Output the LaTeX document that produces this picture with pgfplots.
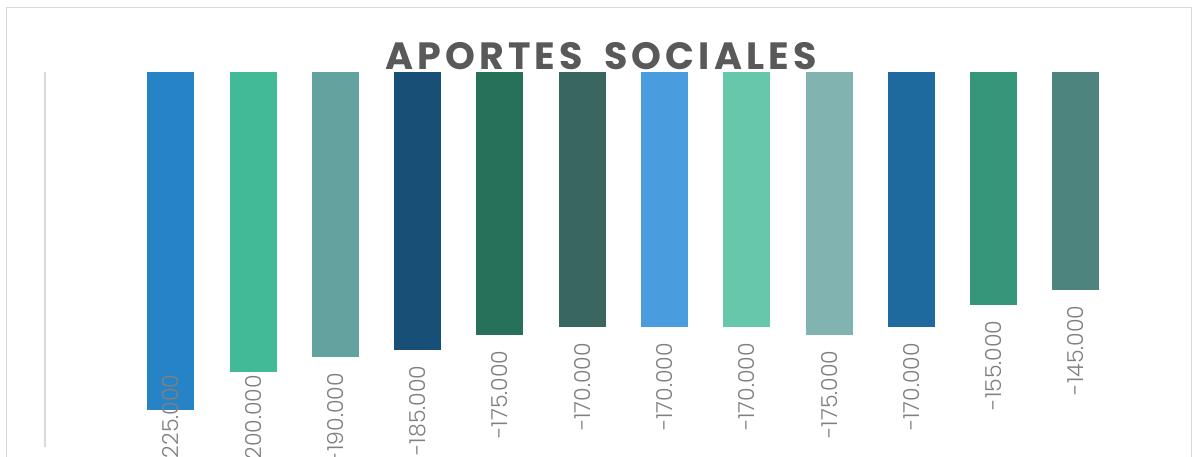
\documentclass[border=0pt]{standalone}
\usepackage{pgfplots}
\pgfplotsset{compat=1.18}
\usepackage{fontspec}
\setmainfont{Poppins}
\newfontfamily\titlefont[LetterSpace=11]{Poppins}
\newfontfamily\labfont{Poppins Light}
\definecolor{c1}{HTML}{2683C6}
\definecolor{c2}{HTML}{42BA97}
\definecolor{c3}{HTML}{62A39F}
\definecolor{c4}{HTML}{184F76}
\definecolor{c5}{HTML}{27705A}
\definecolor{c6}{HTML}{3A6660}
\definecolor{c7}{HTML}{499CDD}
\definecolor{c8}{HTML}{67C7AA}
\definecolor{c9}{HTML}{81B4B0}
\definecolor{c10}{HTML}{1E6A9F}
\definecolor{c11}{HTML}{35967A}
\definecolor{c12}{HTML}{4D847E}
\definecolor{framegray}{HTML}{D9D9D9}
\definecolor{labgray}{HTML}{808080}
\definecolor{titlegray}{HTML}{595959}
\begin{document}
\begin{tikzpicture}[x=1pt,y=1pt]
\path[use as bounding box] (0,0) rectangle (1198,456);
\fill[white] (0,0) rectangle (1198,456);
\draw[color=framegray, line width=1.5pt] (6.5,-20) rectangle (1191.5,448.5);
\begin{axis}[
  at={(45pt,384pt)}, anchor=north west,
  scale only axis, width=1072pt, height=375pt,
  xmin=-1.53, xmax=11.5, ymin=-250000, ymax=0,
  axis x line=none, axis y line=left,
  y axis line style={draw=framegray, line width=1.5pt, -},
  ytick=\empty,
  ybar, bar width=47pt, bar shift=0pt,
  clip=false,
  point meta=explicit symbolic,
  nodes near coords={\pgfplotspointmeta},
  every node near coord/.append style={yshift=-16pt, rotate=90, anchor=east,
    font=\labfont\fontsize{22}{22}\selectfont, text=labgray, inner sep=0pt},
]
\addplot[fill=c1, draw=none, every node near coord/.append style={xshift=51pt}] coordinates {(0,-225000) [-225.000]};
\addplot[fill=c2, draw=none, every node near coord/.append style={xshift=13pt}] coordinates {(1,-200000) [-200.000]};
\addplot[fill=c3, draw=none] coordinates {(2,-190000) [-190.000]};
\addplot[fill=c4, draw=none] coordinates {(3,-185000) [-185.000]};
\addplot[fill=c5, draw=none] coordinates {(4,-175000) [-175.000]};
\addplot[fill=c6, draw=none] coordinates {(5,-170000) [-170.000]};
\addplot[fill=c7, draw=none] coordinates {(6,-170000) [-170.000]};
\addplot[fill=c8, draw=none] coordinates {(7,-170000) [-170.000]};
\addplot[fill=c9, draw=none] coordinates {(8,-175000) [-175.000]};
\addplot[fill=c10, draw=none] coordinates {(9,-170000) [-170.000]};
\addplot[fill=c11, draw=none] coordinates {(10,-155000) [-155.000]};
\addplot[fill=c12, draw=none] coordinates {(11,-145000) [-145.000]};
\end{axis}
\node[font=\titlefont\bfseries\fontsize{38}{38}\selectfont, text=titlegray, anchor=base] at (601,386) {APORTES\hspace{21pt}SOCIALES};
\end{tikzpicture}
\end{document}
